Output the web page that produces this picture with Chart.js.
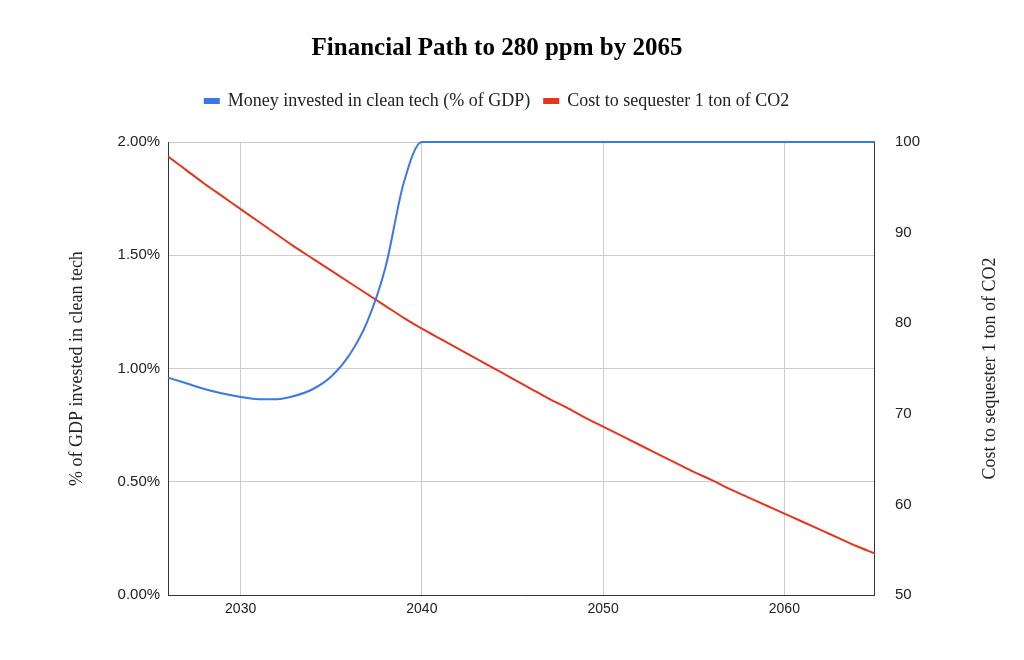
<!DOCTYPE html>
<html>
<head>
<meta charset="utf-8">
<script src="https://cdn.jsdelivr.net/npm/chart.js@4"></script>
<style>
  body { margin: 0; background: #fff; }
  #wrap { width: 1024px; height: 660px; }
</style>
</head>
<body>
<div id="wrap"><canvas id="c"></canvas></div>
<script>
// years and series
const years = [2026,2027,2028,2029,2030,2031,2032,2033,2034,2035,2036,2037,2038,2039,2040,
  2041,2042,2043,2044,2045,2046,2047,2048,2049,2050,2051,2052,2053,2054,2055,
  2056,2057,2058,2059,2060,2061,2062,2063,2064,2065];
const cleanTech = [0.96,0.935,0.91,0.89,0.875,0.865,0.865,0.88,0.91,0.965,1.06,1.21,1.45,1.82,2.0,
  2.0,2.0,2.0,2.0,2.0,2.0,2.0,2.0,2.0,2.0,2.0,2.0,2.0,2.0,2.0,
  2.0,2.0,2.0,2.0,2.0,2.0,2.0,2.0,2.0,2.0];
const sequesterCost = [98.4,96.9,95.4,94.0,92.6,91.2,89.8,88.4,87.1,85.8,84.5,83.2,81.9,80.6,79.4,
  78.3,77.2,76.1,75.0,73.9,72.8,71.7,70.7,69.6,68.6,67.6,66.6,65.6,64.6,63.6,
  62.7,61.7,60.8,59.9,59.0,58.1,57.2,56.3,55.4,54.6];
const xTicks = [2030, 2040, 2050, 2060];
const rightTitle = 'Cost to sequester 1 ton of CO2';

const serif = "'Liberation Serif', 'DejaVu Serif', serif";
const sans = "'Liberation Sans', Arial, sans-serif";

// right axis title reads bottom to top, like the left one
const rightTitlePlugin = {
  id: 'rightTitle',
  afterDraw(chart) {
    const ctx = chart.ctx, a = chart.chartArea;
    ctx.save();
    ctx.translate(990, (a.top + a.bottom) / 2);
    ctx.rotate(-Math.PI / 2);
    ctx.fillStyle = '#222';
    ctx.font = '18px ' + serif;
    ctx.textAlign = 'center';
    ctx.textBaseline = 'middle';
    ctx.fillText(rightTitle, 0, 0);
    ctx.restore();
  }
};

new Chart(document.getElementById('c'), {
  type: 'line',
  data: {
    datasets: [
      {
        label: 'Money invested in clean tech (% of GDP)',
        data: years.map((y, i) => ({ x: y, y: cleanTech[i] })),
        borderColor: '#3b78e7', backgroundColor: '#3b78e7',
        borderWidth: 2, pointRadius: 0, yAxisID: 'y', clip: false,
        cubicInterpolationMode: 'monotone'
      },
      {
        label: 'Cost to sequester 1 ton of CO2',
        data: years.map((y, i) => ({ x: y, y: sequesterCost[i] })),
        borderColor: '#e8331f', backgroundColor: '#e8331f',
        borderWidth: 2, pointRadius: 0, yAxisID: 'y1',
        cubicInterpolationMode: 'monotone'
      }
    ]
  },
  options: {
    responsive: true, maintainAspectRatio: false, animation: false,
    layout: { padding: { left: 62, right: 92, top: 14, bottom: 36 } },
    plugins: {
      title: {
        display: true, text: 'Financial Path to 280 ppm by 2065',
        color: '#000', font: { family: serif, size: 25, weight: 'bold' },
        padding: { top: 20, bottom: 14 }
      },
      legend: {
        labels: {
          color: '#222', font: { family: serif, size: 18 },
          boxWidth: 14, boxHeight: 4, padding: 14
        },
        afterFit() {}
      },
      tooltip: { enabled: false }
    },
    scales: {
      x: {
        type: 'linear', min: 2026, max: 2065,
        afterBuildTicks: s => { s.ticks = xTicks.map(v => ({ value: v })); },
        ticks: { color: '#222', font: { family: sans, size: 14 }, padding: 6, callback: v => String(v) },
        grid: { color: '#ccc', drawTicks: false },
        border: { color: '#333' }
      },
      y: {
        position: 'left', min: 0, max: 2,
        ticks: { stepSize: 0.5, color: '#222', font: { family: sans, size: 15 }, padding: 8,
          callback: v => v.toFixed(2) + '%' },
        grid: { color: '#ccc', drawTicks: false },
        border: { color: '#333' },
        title: { display: true, text: '% of GDP invested in clean tech', color: '#222',
          font: { family: serif, size: 18 }, padding: { bottom: 22 } }
      },
      y1: {
        position: 'right', min: 50, max: 100,
        ticks: { stepSize: 10, color: '#222', font: { family: sans, size: 15 }, padding: 12 },
        grid: { display: false },
        border: { color: '#333' }
      }
    }
  },
  plugins: [rightTitlePlugin, {
    id: 'legendGap',
    beforeInit(chart) {
      const fit = chart.legend.fit;
      chart.legend.fit = function () { fit.bind(chart.legend)(); this.height += 22; };
    }
  }]
});
</script>
</body>
</html>
